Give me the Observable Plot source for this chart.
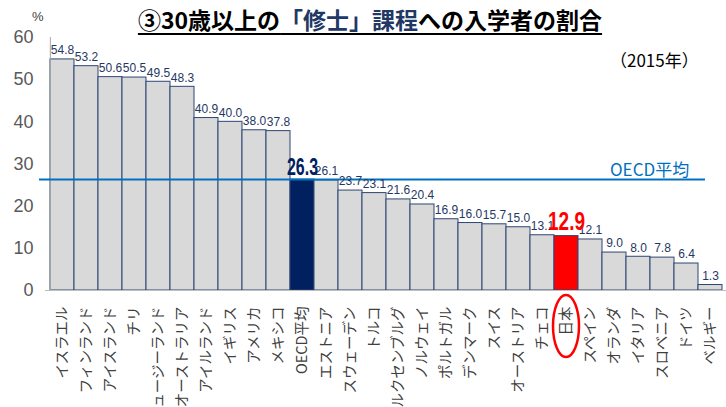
<!DOCTYPE html>
<html><head><meta charset="utf-8">
<script src="https://cdn.jsdelivr.net/npm/d3@7"></script>
<script src="https://cdn.jsdelivr.net/npm/@observablehq/plot@0.6"></script>
<style>
body{margin:0;background:#fff;}
#wrap{position:relative;width:726px;height:407px;overflow:hidden;font-family:"Noto Sans CJK JP",sans-serif;}
#title{position:absolute;left:0;top:2px;width:740px;text-align:center;font-size:23px;font-weight:bold;color:#000;white-space:nowrap;}
#title span.u{text-decoration:underline;text-decoration-thickness:2px;text-underline-offset:4px;}
#title .b{color:#1F3864;}
#year{position:absolute;left:610px;top:47px;font-size:17px;color:#000;}
#pct{position:absolute;left:32px;top:9px;font-size:13px;color:#404040;font-family:"Liberation Sans",Arial,sans-serif;}
#oecd{position:absolute;left:610px;top:156px;font-size:17px;color:#0070C0;}
</style></head>
<body><div id="wrap">
<div id="chart"></div>
<div id="title"><span class="u">③30歳以上の<span class="b">「修士」課程</span>への入学者の割合</span></div>
<div id="year">（2015年）</div>
<div id="pct">%</div>
<div id="oecd">OECD平均</div>
</div>
<script>
const countries = ["イスラエル","フィンランド","アイスランド","チリ","ニュージーランド","オーストラリア","アイルランド","イギリス","アメリカ","メキシコ","OECD平均","エストニア","スウェーデン","トルコ","ルクセンブルグ","ノルウェイ","ポルトガル","デンマーク","スイス","オーストリア","チェコ","日本","スペイン","オランダ","イタリア","スロベニア","ドイツ","ベルギー"];
const values = [54.8,53.2,50.6,50.5,49.5,48.3,40.9,40.0,38.0,37.8,26.3,26.1,23.7,23.1,21.6,20.4,16.9,16.0,15.7,15.0,13.1,12.9,12.1,9.0,8.0,7.8,6.4,1.3];
const oecdAvg = 26.3;
const yTicks = [0,10,20,30,40,50,60];

const data = countries.map((c,i)=>({c, v: values[i]}));
const W = 726, H = 407, mL = 45, mR = 0, mT = 37, mB = 117;
const bw = (W - mL - mR) / countries.length;
const fillOf = d => d.c === "OECD平均" ? "#002060" : d.c === "日本" ? "#FF0000" : "#D9D9D9";
const normal = data.filter(d => d.c !== "OECD平均" && d.c !== "日本");

const plot = Plot.plot({
  width: W, height: H,
  marginLeft: mL, marginRight: mR, marginTop: mT, marginBottom: mB,
  x: {domain: countries, padding: 0, label: null},
  y: {domain: [0, 60], label: null},
  style: {background: "transparent"},
  marks: [
    Plot.barY(data, {x: "c", y: "v", fill: fillOf, stroke: "#2E4672", strokeWidth: 1}),
    Plot.ruleY([0], {stroke: "#BFBFBF", strokeWidth: 1}),
    Plot.ruleX([countries[0]], {y1: 0, y2: 60, dx: -bw/2, stroke: "#A6A6A6", strokeWidth: 1}),
    Plot.ruleY([oecdAvg], {stroke: "#0070C0", strokeWidth: 2, insetLeft: -6, insetRight: 21}),
    Plot.text(normal, {x: "c", y: "v", text: d => d.v.toFixed(1), dy: -9, fontSize: 12, fill: "#1F3864",
      fontFamily: "Liberation Sans, Arial, sans-serif", letterSpacing: "-0.3px"}),
    Plot.text(data.filter(d => d.c === "OECD平均"), {x: "c", y: "v", text: d => d.v.toFixed(1), dy: -12,
      fontSize: 23, fontWeight: "bold", fill: "#002060", fontFamily: "Liberation Sans, Arial, sans-serif"}),
    Plot.text(data.filter(d => d.c === "日本"), {x: "c", y: "v", text: d => d.v.toFixed(1), dy: -14,
      fontSize: 26, fontWeight: "bold", fill: "#FF0000", fontFamily: "Liberation Sans, Arial, sans-serif"}),
    Plot.axisY({ticks: yTicks, tickSize: 0, tickPadding: 12, fontSize: 18, fill: "#595959",
      fontFamily: "Liberation Sans, Arial, sans-serif", label: null}),
    Plot.axisX({tickRotate: -90, tickSize: 0, tickPadding: 16, fontSize: 14.5, fill: "#404040",
      fontFamily: "Noto Sans CJK JP, sans-serif", label: null})
  ]
});
document.getElementById("chart").appendChild(plot);

// condense the two highlighted value labels (narrow bold look of the reference)
d3.select(plot).selectAll("text").each(function() {
  const fs = parseFloat(this.getAttribute("font-size") || this.parentNode.getAttribute("font-size"));
  if (this.textContent === "26.3" && fs === 23) {
    this.setAttribute("textLength", 31); this.setAttribute("lengthAdjust", "spacingAndGlyphs");
  }
  if (this.textContent === "12.9" && fs === 26) {
    this.setAttribute("textLength", 37); this.setAttribute("lengthAdjust", "spacingAndGlyphs");
  }
});

// red ellipse around 日本 label, positioned through the plot's x scale
const xs = plot.scale("x");
const cx = xs.apply("日本") + xs.bandwidth / 2;
const ys = plot.scale("y");
const y0 = ys.apply(0);
const ns = "http://www.w3.org/2000/svg";
const el = document.createElementNS(ns, "ellipse");
el.setAttribute("cx", cx);
el.setAttribute("cy", y0 + 36);
el.setAttribute("rx", 13);
el.setAttribute("ry", 31);
el.setAttribute("fill", "none");
el.setAttribute("stroke", "#FF0000");
el.setAttribute("stroke-width", 2.5);
plot.appendChild(el);
</script>
</body></html>
